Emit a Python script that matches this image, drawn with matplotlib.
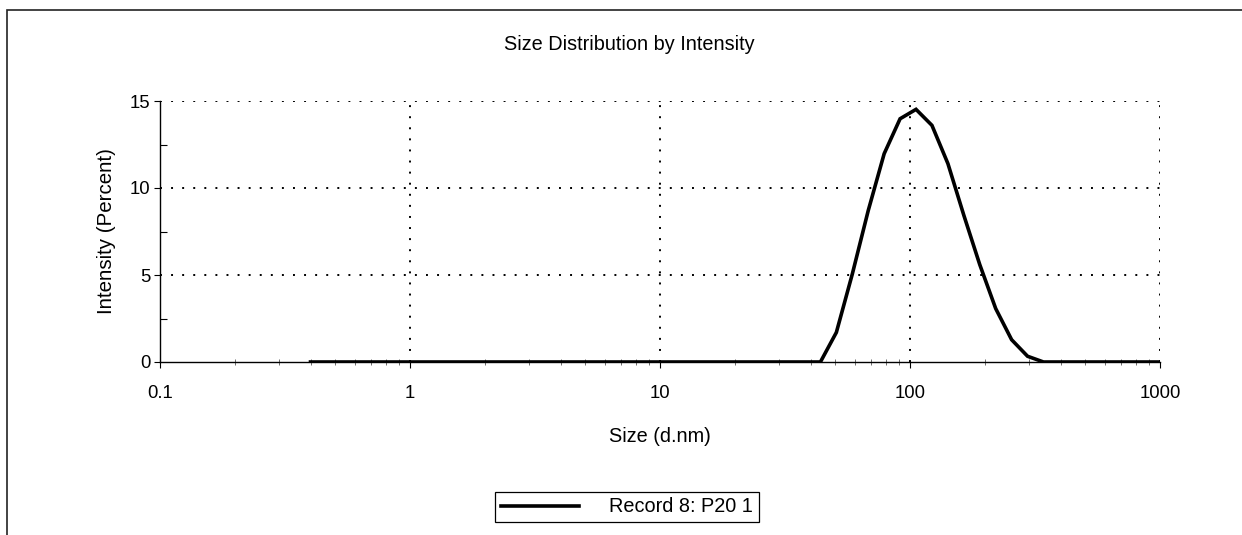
import matplotlib
matplotlib.use('Agg')
import matplotlib.pyplot as plt
import numpy as np
from matplotlib.patches import Rectangle
from matplotlib.ticker import FixedLocator, NullFormatter

plt.rcParams['font.family'] = ['Liberation Sans', 'DejaVu Sans']

# ── data (Malvern size bins, d.nm) ──
size_nm = [0.4, 0.4632, 0.5365, 0.6213, 0.7195, 0.8332, 0.9649, 1.117, 1.294,
           1.499, 1.736, 2.010, 2.328, 2.696, 3.122, 3.615, 4.187, 4.849,
           5.615, 6.503, 7.531, 8.721, 10.10, 11.70, 13.54, 15.69, 18.17,
           21.04, 24.36, 28.21, 32.67, 37.84, 43.82, 50.75, 58.77, 68.06,
           78.82, 91.28, 105.7, 122.4, 141.8, 164.2, 190.1, 220.2, 255.0,
           295.3, 342.0, 396.1, 458.7, 531.2, 615.1, 712.4, 825.0, 955.4,
           1106.0]
intensity = [0.0] * 33 + [1.7, 5.05, 8.7, 11.97, 13.98, 14.52, 13.6, 11.4,
                          8.43, 5.6, 3.07, 1.28, 0.33] + [0.0] * 9
record_label = 'Record 8: P20 1'

W, H = 1242, 535
fig = plt.figure(figsize=(W / 100, H / 100), dpi=100)
ax = fig.add_axes([160 / W, 1 - 362 / H, 1000 / W, 261 / H])

line, = ax.plot(size_nm, intensity, color='black', lw=2.6, zorder=3,
                solid_joinstyle='miter', clip_on=True)

ax.set_xscale('log')
ax.set_xlim(0.1, 1000)
ax.set_ylim(0, 15)

# ticks
ax.xaxis.set_major_locator(FixedLocator([0.1, 1, 10, 100, 1000]))
ax.set_xticklabels(['0.1', '1', '10', '100', '1000'])
minors = [m * 10.0 ** e for e in range(-1, 3) for m in range(2, 10)]
ax.xaxis.set_minor_locator(FixedLocator(minors))
ax.xaxis.set_minor_formatter(NullFormatter())
ax.set_yticks([0, 5, 10, 15])
ax.yaxis.set_minor_locator(FixedLocator([2.5, 7.5, 12.5]))

ax.tick_params(axis='x', which='major', direction='out', length=4,
               width=0.8, labelsize=13.3, pad=12.5, colors='black')
ax.tick_params(axis='x', which='minor', direction='inout', length=5,
               width=0.6, color='#555555')
ax.tick_params(axis='y', which='major', direction='out', length=4,
               width=0.8, labelsize=13.3, pad=3)
ax.tick_params(axis='y', which='minor', direction='in', length=5,
               width=0.8)

for s in ['top', 'right']:
    ax.spines[s].set_visible(False)
for s in ['left', 'bottom']:
    ax.spines[s].set_linewidth(1.0)
    ax.spines[s].set_color('black')

# dotted grid
for yv in [5, 10, 15]:
    ax.axhline(yv, color='black', lw=1.4, ls=(0, (1, 4.7)), zorder=1)
for xv in [1, 10, 100, 1000]:
    ax.axvline(xv, color='black', lw=1.4, ls=(0, (1, 4.7)), zorder=1)

# texts
fig.text(629 / W, 1 - 45 / H, 'Size Distribution by Intensity',
         ha='center', va='center', fontsize=14.3)
fig.text(660 / W, 1 - 437 / H, 'Size (d.nm)',
         ha='center', va='center', fontsize=14.3)
fig.text(107 / W, 1 - 231 / H, 'Intensity (Percent)', rotation=90,
         ha='center', va='center', fontsize=14.8)

# legend
leg = fig.legend([line], [record_label], loc='center',
                 bbox_to_anchor=(627 / W, 1 - 507 / H), fontsize=14.3,
                 frameon=True, fancybox=False, edgecolor='black',
                 framealpha=1, handlelength=3.9, handletextpad=1.5,
                 borderpad=0.3, borderaxespad=0)
leg.get_frame().set_linewidth(0.9)

# outer frame (open to the right and bottom)
fig.add_artist(Rectangle((7 / W, -0.2), 1.2, 1 - 10 / H + 0.2,
                         transform=fig.transFigure, fill=False,
                         edgecolor='#222222', lw=1.2))

fig.savefig('out.png', dpi=100)
